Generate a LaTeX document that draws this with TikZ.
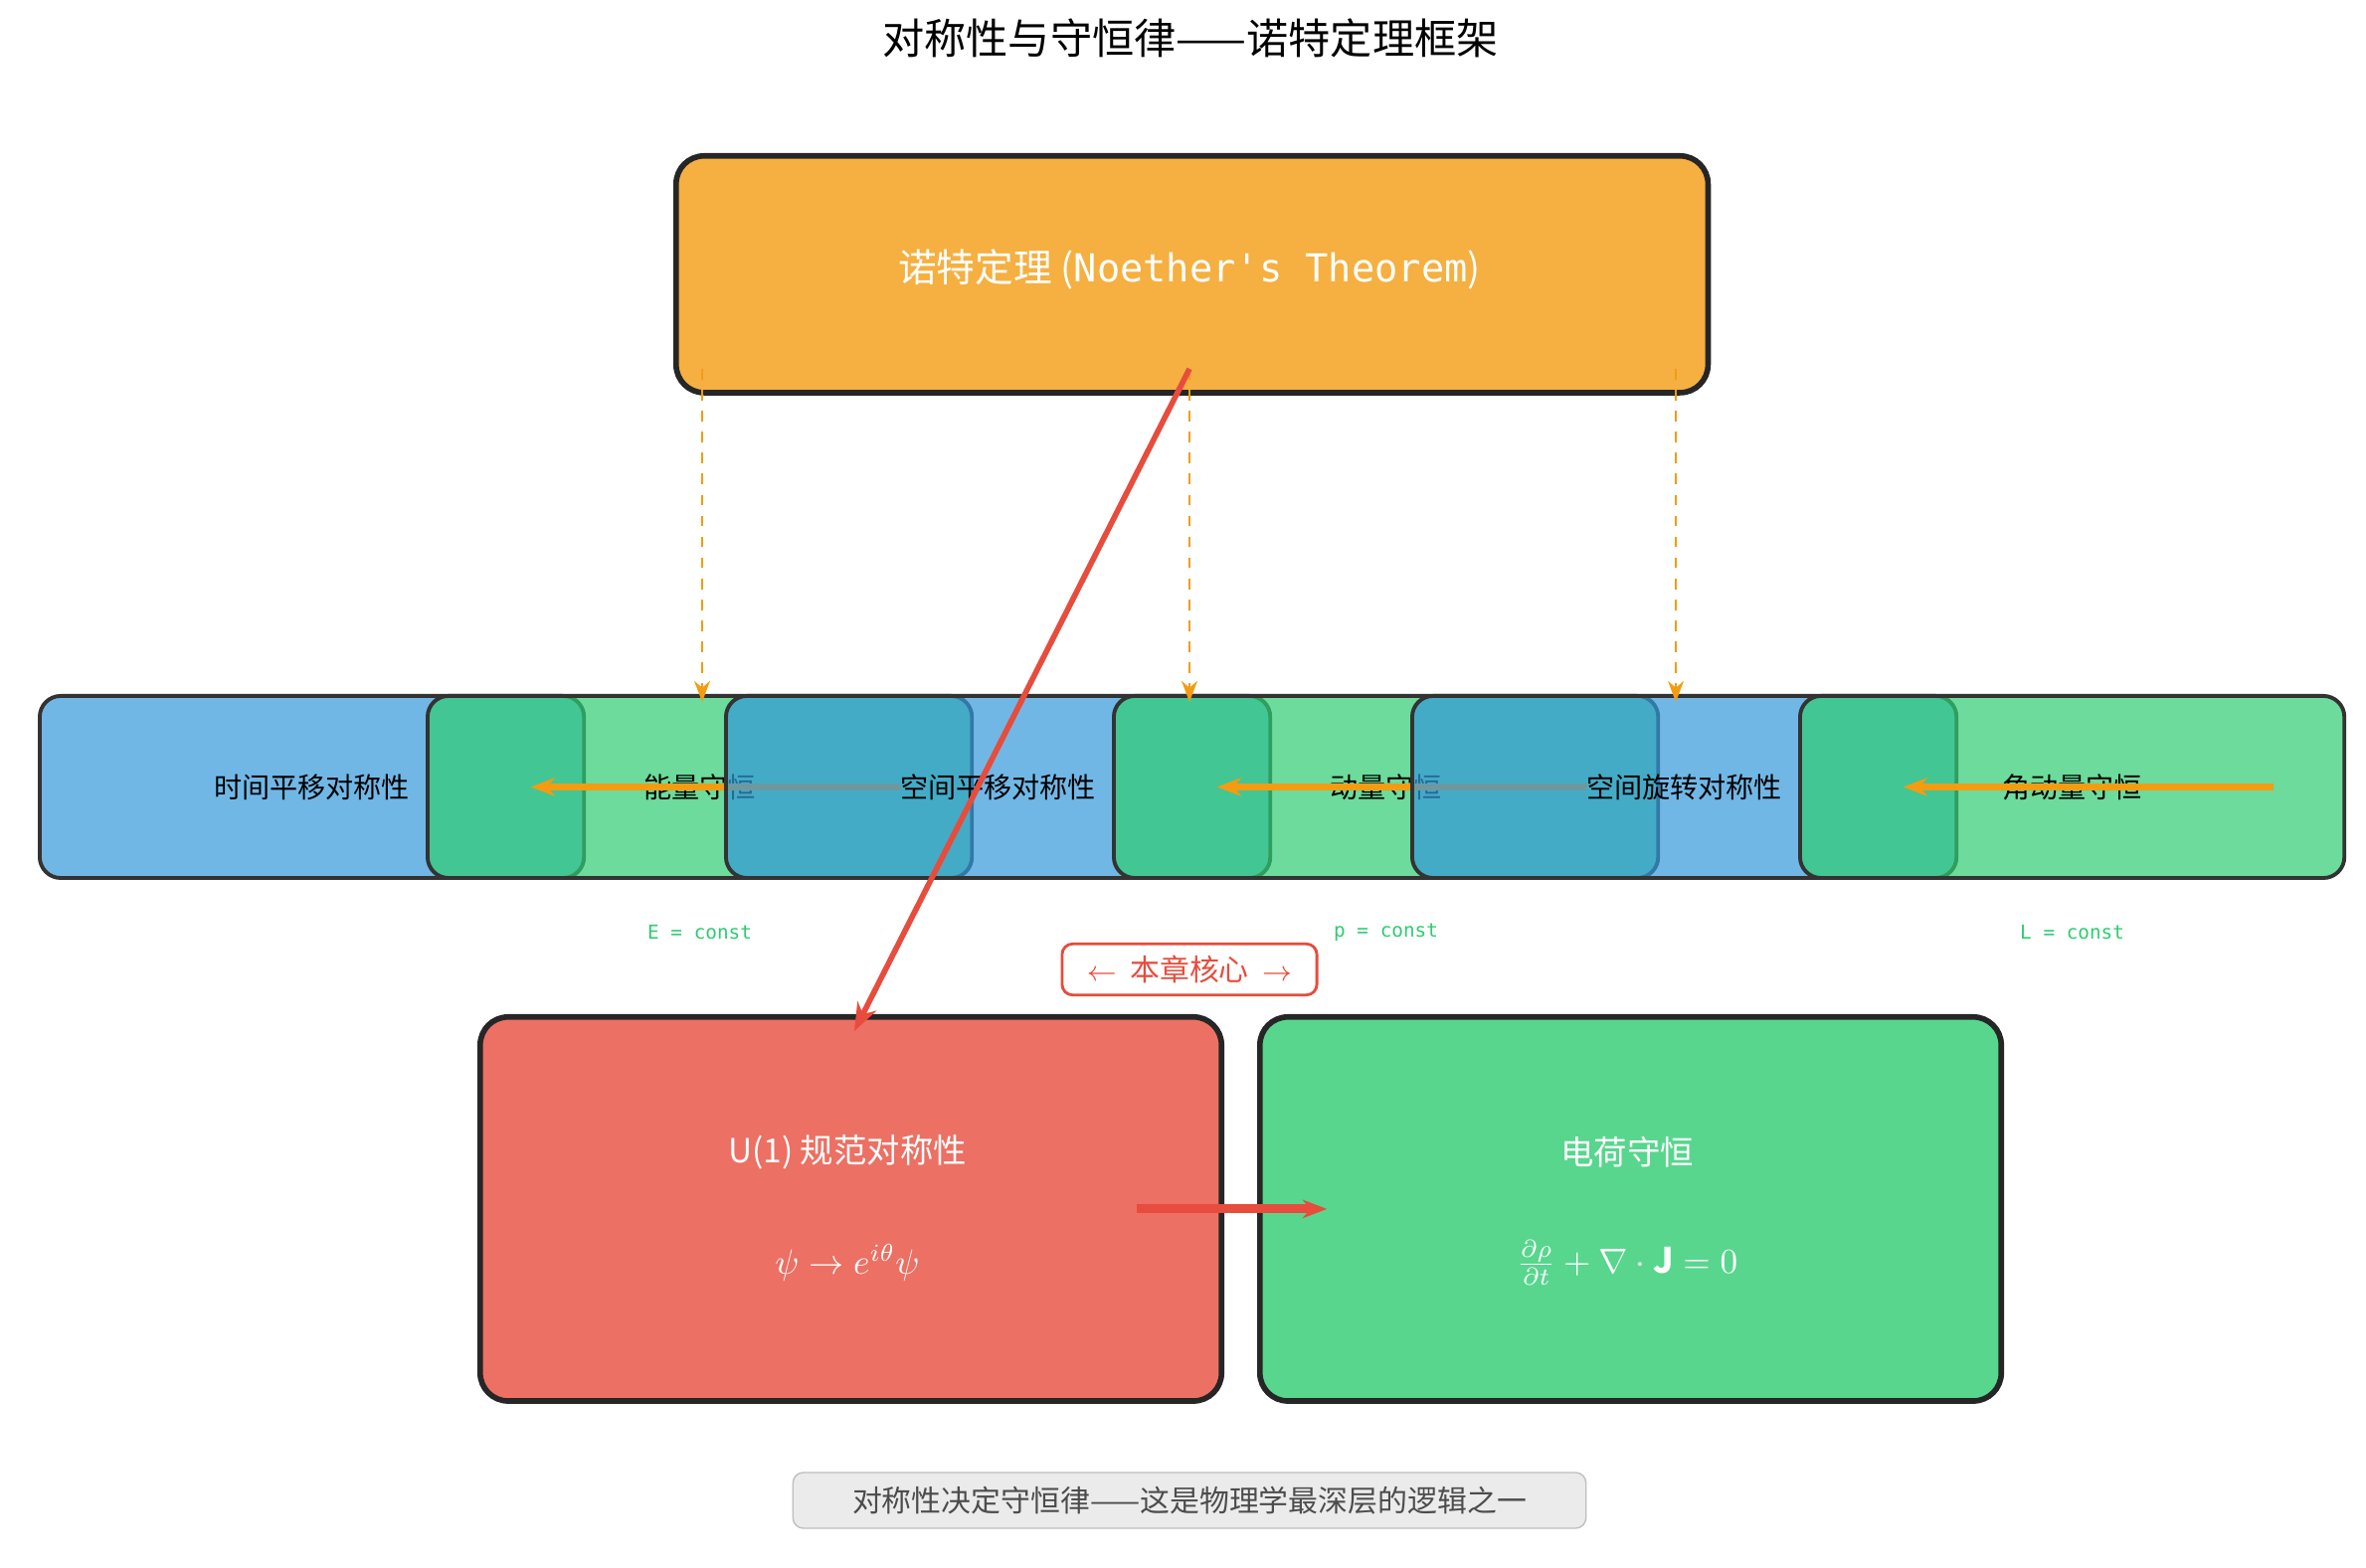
\documentclass[tikz,border=0pt]{standalone}
\usepackage{fontspec}
\setmainfont{Noto Sans CJK SC}
\setmonofont{DejaVu Sans Mono}
\usetikzlibrary{arrows.meta,positioning}
\definecolor{norange}{HTML}{F39C12}
\definecolor{nblue}{HTML}{3498DB}
\definecolor{ngreen}{HTML}{2ECC71}
\definecolor{nred}{HTML}{E74C3C}
\tikzset{
  bigbox/.style={draw=black!85, line width=1.6pt, rounded corners=8pt, text=white, anchor=north west},
  symbox/.style={draw=black!80, line width=1.1pt, rounded corners=6pt, fill=nblue, fill opacity=0.7, text opacity=1,
    anchor=north west, minimum width=5.47cm, minimum height=1.83cm, font=\fontsize{8}{9}\selectfont},
  conbox/.style={symbox, fill=ngreen},
  constlbl/.style={text=ngreen, font=\ttfamily\fontsize{5.5}{6}\selectfont},
}
\begin{document}
\begin{tikzpicture}[x=0.01cm, y=-0.01cm]
  \useasboundingbox (0,0) rectangle (2379,1577);
  % title
  \node (title) at (1197,38) {\fontsize{12}{14}\selectfont 对称性与守恒律——诺特定理框架};
  % Noether box
  \node[bigbox, fill=norange!80, minimum width=10.37cm, minimum height=2.38cm] (noether) at (677,154) {};
  \node (noethertxt) at (1196,271) {\fontsize{11}{13}\selectfont\color{white}诺特定理 (\texttt{Noether's Theorem})};
  % symmetry / conservation row
  \foreach \i/\sym/\con/\cst in {0/时间平移对称性/能量守恒/E,1/空间平移对称性/动量守恒/p,2/空间旋转对称性/角动量守恒/L}{
    \node[symbox] (sym\i) at (38+690*\i,698) {\sym};
    \node[conbox] (con\i) at (428+690*\i,698) {\con};
    \draw[-{Stealth[length=7pt]}, line width=2pt, norange] ([xshift=136]con\i.west) -- ([xshift=30]con\i.west);
    \node[constlbl] (cst\i) at (con\i.center |- 0,938) {\cst{} = const};
  }
  % dashed links
  \foreach \x/\n in {706/a,1196/b,1685/c}{
    \coordinate (top\n) at (\x,371);
    \coordinate (bot\n) at (\x,706);
    \draw[-{Stealth[length=6pt]}, dashed, thick, norange] (top\n) -- (bot\n);
  }
  % U(1) and charge boxes
  \node[bigbox, fill=nred!80, minimum width=7.45cm, minimum height=3.86cm] (gauge) at (480,1020) {};
  \node[bigbox, fill=ngreen!80, minimum width=7.45cm, minimum height=3.86cm] (charge) at (1264,1020) {};
  \node[text=white] (gaugetxt) at (852,1159) {\fontsize{9.5}{11}\selectfont U(1) 规范对称性};
  \node[text=white] (gaugeeq) at (852,1270) {$\psi\to e^{i\theta}\psi$};
  \node[text=white] (chargetxt) at (1636,1159) {\fontsize{9.5}{11}\selectfont 电荷守恒};
  \node[text=white] (chargeeq) at (1636,1270) {$\frac{\partial\rho}{\partial t}+\nabla\cdot\mathbf{J}=0$};
  \coordinate (redtop) at (1196,371);
  \coordinate (redbot) at (859,1037);
  \draw[-{Stealth[length=8pt]}, line width=1.6pt, nred] (redtop) -- (redbot);
  \draw[-{Stealth[length=7pt]}, line width=2.6pt, nred] ([xshift=-25]gauge.east) -- ([xshift=20]charge.west);
  % core label
  \node[draw=nred, fill=white, rounded corners=3pt, text=nred, line width=0.8pt, minimum width=2.56cm, minimum height=0.51cm,
    font=\fontsize{8.5}{10}\selectfont] (core) at (1196,975) {$\leftarrow$\ \ 本章核心\ \ $\rightarrow$};
  % bottom note
  \node[draw=black!25, fill=black!8, rounded corners=3pt, text=black!70, minimum width=7.97cm, minimum height=0.56cm,
    font=\fontsize{8.5}{10}\selectfont] (note) at (1196,1509) {对称性决定守恒律——这是物理学最深层的逻辑之一};
\end{tikzpicture}
\end{document}
